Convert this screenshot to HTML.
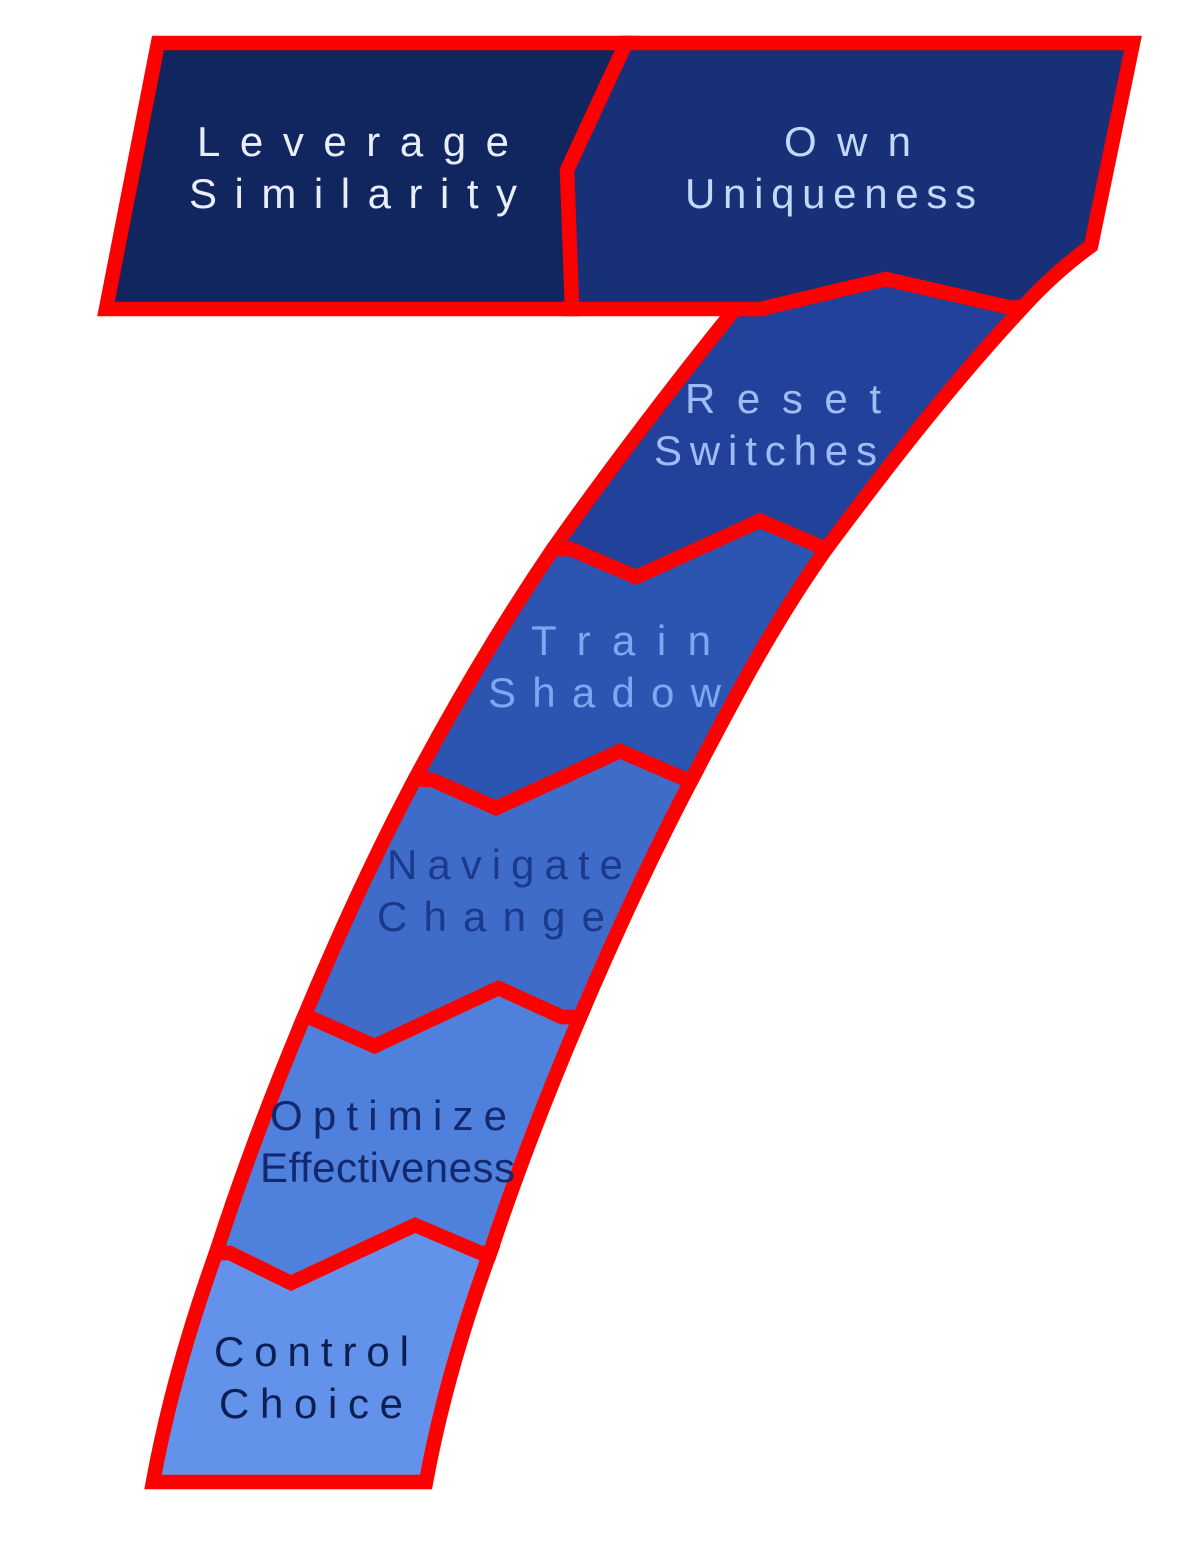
<!DOCTYPE html>
<html>
<head>
<meta charset="utf-8">
<style>
html,body{margin:0;padding:0;background:#fff;}
svg{display:block;}
text{font-family:"Liberation Sans",Arial,sans-serif;font-size:42px;}
.s{stroke:#ff0000;stroke-width:14.5;stroke-linejoin:miter;stroke-miterlimit:2;}
</style>
</head>
<body>
<svg width="1200" height="1556" viewBox="0 0 1200 1556" xmlns="http://www.w3.org/2000/svg">
<path class="s" fill="#6392ea" d="M230,1253 L291,1283 L415,1225 L481,1253 L490,1253 C466,1318 441,1400 426,1482 L153,1482 C168,1400 192,1320 216,1253 Z"/>
<path class="s" fill="#4f80db" d="M309,1017 L374.500,1046 L498.500,988 L562,1017 L580,1017 C546.300,1096 515.700,1175.500 490,1253 L481,1253 L415,1225 L291,1283 L230,1253 L216,1253 C241,1175.500 271,1096 304,1017 Z"/>
<path class="s" fill="#3f6cc8" d="M433,780 L496,808 L620,751 L685,779 L692,779 C651,857 613.700,938 580,1017 L562,1017 L498.500,988 L374.500,1046 L309,1017 L304,1017 C337,938 373.500,857 415,779 Z"/>
<path class="s" fill="#2c55b2" d="M571,549 L636,577 L760,520.500 L826,549 C771,627 733,701 692,779 L685,779 L620,751 L496,808 L433,780 L415,779 C456.500,701 500,627 553,549 Z"/>
<path class="s" fill="#21419a" d="M735,309 L760,309 L886,279 L1012,308 L1024,306 C953,382 888,466 826,549 L760,520.500 L636,577 L571,549 L553,549 C608,471 675,383 735,309 Z"/>
<path class="s" fill="#173078" d="M626,43 L1133,43 L1091,246 Q1055,272 1024,306 L1012,308 L886,279 L760,309 L572,309 L567,170 Z"/>
<path class="s" fill="#11255f" d="M158,43 L626,43 L567,170 L572,309 L106,309 Z"/>

<g>
<text x="197" y="156" textLength="312" lengthAdjust="spacing" fill="#e8eefb">Leverage</text>
<text x="189" y="208" textLength="328" lengthAdjust="spacing" fill="#e8eefb">Similarity</text>
<text x="784" y="156" textLength="127" lengthAdjust="spacing" fill="#c4d8fa">Own</text>
<text x="685" y="208" textLength="291" lengthAdjust="spacing" fill="#c4d8fa">Uniqueness</text>
<text x="685" y="413" textLength="196" lengthAdjust="spacing" fill="#9fbdf5">Reset</text>
<text x="654" y="465" textLength="223" lengthAdjust="spacing" fill="#9fbdf5">Switches</text>
<text x="531" y="655" textLength="180" lengthAdjust="spacing" fill="#7fa6f2">Train</text>
<text x="488" y="707" textLength="233" lengthAdjust="spacing" fill="#7fa6f2">Shadow</text>
<text x="387" y="879" textLength="236" lengthAdjust="spacing" fill="#1c3a8c">Navigate</text>
<text x="377" y="931" textLength="228" lengthAdjust="spacing" fill="#1c3a8c">Change</text>
<text x="270" y="1130" textLength="237" lengthAdjust="spacing" fill="#12296f">Optimize</text>
<text x="260" y="1182" textLength="255" lengthAdjust="spacing" fill="#12296f">Effectiveness</text>
<text x="214" y="1366" textLength="195" lengthAdjust="spacing" fill="#0c1f52">Control</text>
<text x="219" y="1418" textLength="184" lengthAdjust="spacing" fill="#0c1f52">Choice</text>
</g>
</svg>
</body>
</html>
